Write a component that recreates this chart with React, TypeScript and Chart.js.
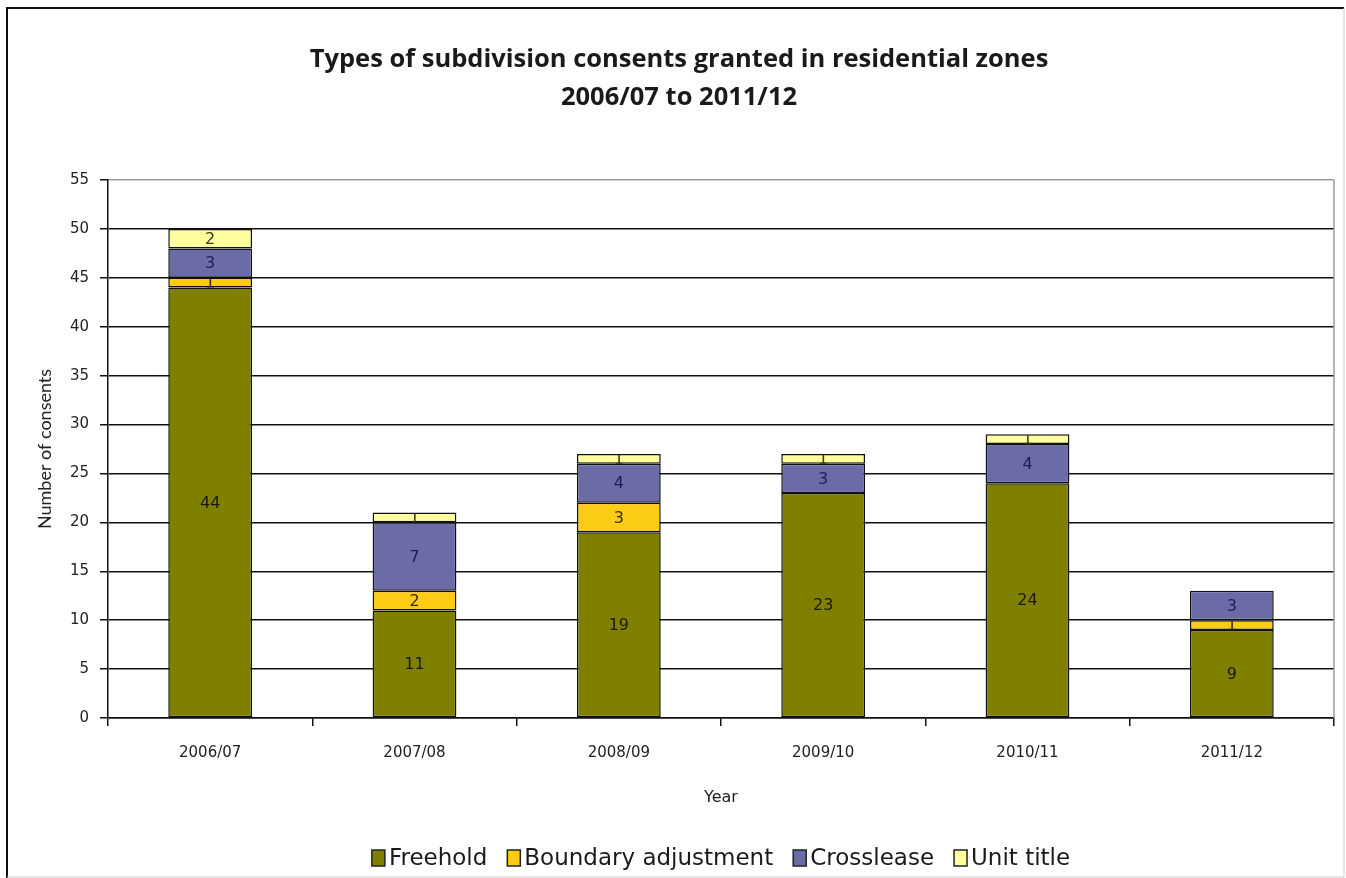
import React, { useEffect, useRef } from "react";
import { Chart, registerables } from "chart.js";

Chart.register(...registerables);

const categories = ["2006/07", "2007/08", "2008/09", "2009/10", "2010/11", "2011/12"];
const freehold = [44, 11, 19, 23, 24, 9];
const boundaryAdjustment = [1, 2, 3, 0, 0, 1];
const crosslease = [3, 7, 4, 3, 4, 3];
const unitTitle = [2, 1, 1, 1, 1, 0];
const seriesNames = ["Freehold", "Boundary adjustment", "Crosslease", "Unit title"];
const seriesColors = ["#808000", "#fccb14", "#6b6ba8", "#ffff9e"];
const titleLines = ["Types of subdivision consents granted in residential zones", "2006/07 to 2011/12"];
const yAxisTitle = "Number of consents";
const xAxisTitle = "Year";

const W = 1346;
const H = 878;

const labelColors = ["#1a1a00", "#3a2a00", "#1c1c5c", "#3a3a10"];

const framePlugin = {
  id: "frame",
  beforeDraw(chart: any) {
    const ctx = chart.ctx;
    ctx.save();
    ctx.fillStyle = "#ffffff";
    ctx.fillRect(0, 0, chart.width, chart.height);
    ctx.lineWidth = 2;
    ctx.strokeStyle = "#111";
    ctx.beginPath();
    ctx.moveTo(7, H);
    ctx.lineTo(7, 8);
    ctx.lineTo(W - 2, 8);
    ctx.stroke();
    ctx.strokeStyle = "#c8c8c8";
    ctx.lineWidth = 1;
    ctx.beginPath();
    ctx.moveTo(W - 2, 8);
    ctx.lineTo(W - 2, H - 1);
    ctx.lineTo(7, H - 1);
    ctx.stroke();
    ctx.restore();
  },
  beforeDatasetsDraw(chart: any) {
    const { ctx, chartArea } = chart;
    ctx.save();
    ctx.strokeStyle = "#9a9a9a";
    ctx.lineWidth = 1.5;
    ctx.beginPath();
    ctx.moveTo(chartArea.right, chartArea.top);
    ctx.lineTo(chartArea.right, chartArea.bottom);
    ctx.stroke();
    ctx.restore();
  },
};

const titlePlugin = {
  id: "customTitle",
  afterDraw(chart: any) {
    const ctx = chart.ctx;
    ctx.save();
    ctx.fillStyle = "#1a1a1a";
    ctx.font = "bold 25.5px 'Open Sans'";
    ctx.textAlign = "center";
    ctx.textBaseline = "middle";
    ctx.fillText(titleLines[0], 679, 60);
    ctx.fillText(titleLines[1], 679, 98);
    ctx.restore();
  },
};

const legendPlugin = {
  id: "customLegend",
  afterDraw(chart: any) {
    const ctx = chart.ctx;
    const { chartArea } = chart;
    ctx.save();
    ctx.font = "23px 'DejaVu Sans'";
    const boxW = 13;
    const boxH = 16;
    const gapBoxText = 4;
    const gapItems = 20;
    const widths = chart.data.datasets.map((ds: any) => ctx.measureText(ds.label).width);
    const total =
      widths.reduce((a: number, b: number) => a + b, 0) +
      widths.length * (boxW + gapBoxText) +
      (widths.length - 1) * gapItems;
    let x = (chartArea.left + chartArea.right) / 2 - total / 2;
    const cy = 858;
    chart.data.datasets.forEach((ds: any, i: number) => {
      ctx.fillStyle = ds.backgroundColor;
      ctx.fillRect(x, cy - boxH / 2, boxW, boxH);
      ctx.strokeStyle = "#222";
      ctx.lineWidth = 1.5;
      ctx.strokeRect(x, cy - boxH / 2, boxW, boxH);
      x += boxW + gapBoxText;
      ctx.fillStyle = "#1a1a1a";
      ctx.textAlign = "left";
      ctx.textBaseline = "middle";
      ctx.fillText(ds.label, x, cy + 1);
      x += widths[i] + gapItems;
    });
    ctx.restore();
  },
};

const barLabelPlugin = {
  id: "barLabels",
  afterDatasetsDraw(chart: any) {
    const ctx = chart.ctx;
    chart.data.datasets.forEach((ds: any, di: number) => {
      const meta = chart.getDatasetMeta(di);
      meta.data.forEach((el: any, i: number) => {
        const v = ds.data[i];
        if (v === null || v === undefined || v === 0) return;
        const { x, y, base, width } = el.getProps(["x", "y", "base", "width"], true);
        const top = Math.min(y, base);
        const h = Math.abs(base - y);
        ctx.save();
        ctx.beginPath();
        ctx.rect(x - width / 2, top + 1, width, h - 1);
        ctx.clip();
        ctx.fillStyle = labelColors[di];
        ctx.font = "16px 'DejaVu Sans'";
        ctx.textAlign = "center";
        ctx.textBaseline = "middle";
        ctx.fillText(String(v), x, top + h / 2 + 1);
        ctx.restore();
      });
    });
  },
};

function nz(arr: number[]) {
  return arr.map((v) => (v === 0 ? null : v));
}

export default function App() {
  const ref = useRef<HTMLCanvasElement | null>(null);

  useEffect(() => {
    if (!ref.current) return;
    const common = {
      borderColor: "#111",
      borderWidth: 1.5,
      borderSkipped: false,
      categoryPercentage: 1,
      barPercentage: 0.41,
    };
    const chart = new Chart(ref.current, {
      type: "bar",
      data: {
        labels: categories,
        datasets: [
          { label: seriesNames[0], data: nz(freehold), backgroundColor: seriesColors[0], ...common },
          { label: seriesNames[1], data: nz(boundaryAdjustment), backgroundColor: seriesColors[1], ...common },
          { label: seriesNames[2], data: nz(crosslease), backgroundColor: seriesColors[2], ...common },
          { label: seriesNames[3], data: nz(unitTitle), backgroundColor: seriesColors[3], ...common },
        ] as any,
      },
      options: {
        responsive: false,
        animation: false,
        layout: { padding: { left: 0, right: 12, top: 180, bottom: 41 } },
        plugins: {
          tooltip: { enabled: false },
          title: { display: false },
          legend: { display: false },
        },
        scales: {
          x: {
            stacked: true,
            afterFit(scale: any) {
              scale.height = 119;
            },
            grid: {
              drawOnChartArea: false,
              drawTicks: true,
              tickLength: 8,
              color: "#111",
              lineWidth: 1.5,
              offset: true,
            },
            border: { display: true, color: "#111", width: 1.5 },
            ticks: {
              color: "#222",
              font: { family: "'DejaVu Sans'", size: 15 },
              padding: 18,
              maxRotation: 0,
            },
            title: {
              display: true,
              text: xAxisTitle,
              color: "#222",
              font: { family: "'DejaVu Sans'", size: 16 },
              padding: { top: 0, bottom: 30 },
            },
          },
          y: {
            stacked: true,
            min: 0,
            max: 55,
            afterFit(scale: any) {
              scale.width = 108;
            },
            ticks: {
              stepSize: 5,
              color: "#222",
              font: { family: "'DejaVu Sans'", size: 15 },
              padding: 11,
            },
            grid: {
              color: (c: any) => (c.tick && c.tick.value === 55 ? "#9a9a9a" : "#111"),
              tickColor: "#111",
              lineWidth: 1.5,
              tickLength: 8,
            },
            border: { display: true, color: "#111", width: 1.5 },
            title: {
              display: true,
              text: yAxisTitle,
              color: "#222",
              font: { family: "Lato", size: 18 },
              padding: { top: 34, bottom: 0 },
            },
          },
        },
      },
      plugins: [framePlugin, barLabelPlugin, titlePlugin, legendPlugin],
    } as any);
    return () => chart.destroy();
  }, []);

  return (
    <div style={{ position: "absolute", left: 0, top: 0, width: W, height: H, background: "#fff" }}>
      <canvas ref={ref} width={W} height={H} style={{ display: "block" }} />
    </div>
  );
}
